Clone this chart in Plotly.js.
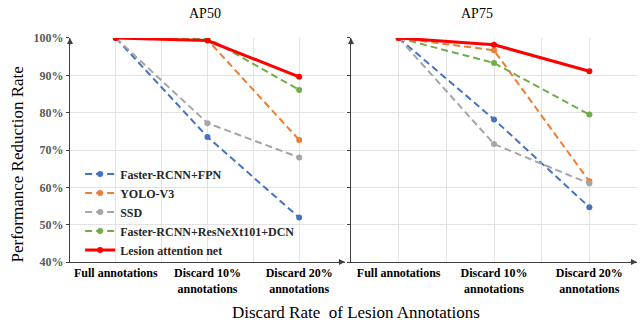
<!DOCTYPE html>
<html>
<head>
<meta charset="utf-8">
<script src="https://cdn.plot.ly/plotly-3.0.1.min.js"></script>
<style>html,body{margin:0;padding:0;background:#fff;}#chart{width:641px;height:322px;}</style>
</head>
<body>
<div id="chart"></div>
<script>
// Data
const categories = [0, 1, 2];
const tickVals = [0, 0.5, 1, 1.5, 2];
const tickLabels = ['Full annotations', '', 'Discard 10%<br>annotations', '', 'Discard 20%<br>annotations'];
const yTickVals = [40, 50, 60, 70, 80, 90, 100];
const yTickLabels = ['40%', '50%', '60%', '70%', '80%', '90%', '100%'];
const seriesNames = ['Faster-RCNN+FPN', 'YOLO-V3', 'SSD', 'Faster-RCNN+ResNeXt101+DCN', 'Lesion attention net'];
const seriesColors = ['#4472C4', '#ED7D31', '#A5A5A5', '#70AD47', '#FF0000'];
const ap50_fpn = [100, 73.5, 51.9];
const ap50_yolo = [100, 99.5, 72.7];
const ap50_ssd = [100, 77.2, 68.0];
const ap50_dcn = [100, 100, 86.1];
const ap50_lan = [100, 99.3, 89.6];
const ap75_fpn = [100, 78.2, 54.7];
const ap75_yolo = [100, 96.7, 61.6];
const ap75_ssd = [100, 71.6, 61.0];
const ap75_dcn = [100, 93.3, 79.5];
const ap75_lan = [100, 98.2, 91.1];

const ap50 = [ap50_fpn, ap50_yolo, ap50_ssd, ap50_dcn, ap50_lan];
const ap75 = [ap75_fpn, ap75_yolo, ap75_ssd, ap75_dcn, ap75_lan];

const serif = '"Liberation Serif", "Times New Roman", serif';
const traces = [];
function addPanel(data, xa, ya, showLegend) {
  data.forEach((vals, i) => {
    const isRed = i === 4;
    traces.push({
      x: categories, y: vals, xaxis: xa, yaxis: ya,
      type: 'scatter', mode: 'lines+markers',
      name: seriesNames[i], showlegend: showLegend,
      line: {color: seriesColors[i], width: isRed ? 3 : 2, dash: isRed ? 'solid' : '7px,4px'},
      marker: {color: seriesColors[i], size: 6}
    });
  });
}
addPanel(ap50, 'x', 'y', true);
addPanel(ap75, 'x2', 'y2', false);

const gridColor = '#E3E3E3';
const axisLineColor = '#404040';
function xAxis(domain, anchor) {
  return {
    domain: domain, anchor: anchor, range: [-0.5, 2.5],
    tickmode: 'array', tickvals: tickVals, ticktext: tickLabels,
    showgrid: true, gridcolor: gridColor, gridwidth: 1,
    showline: true, linecolor: axisLineColor, linewidth: 1,
    ticks: '', zeroline: false, fixedrange: true,
    tickfont: {family: serif, size: 12, color: '#000', weight: 'bold'}
  };
}
function yAxis(domain, anchor, showLabels) {
  return {
    domain: domain, anchor: anchor, range: [40, 100],
    tickmode: 'array', tickvals: yTickVals, ticktext: yTickLabels,
    showticklabels: showLabels,
    showgrid: true, gridcolor: gridColor, gridwidth: 1,
    showline: true, linecolor: axisLineColor, linewidth: 1,
    ticks: 'outside', ticklen: 3, tickcolor: axisLineColor,
    zeroline: false, fixedrange: true,
    tickfont: {family: serif, size: 12, color: '#595959', weight: 'bold'}
  };
}
const yDom = [0.1863, 0.882];
function arrow(xref, yref, x, y, ax, ay) {
  return {xref: xref, yref: yref, x: x, y: y, ax: ax, ay: ay, axref: 'pixel', ayref: 'pixel',
    text: '', showarrow: true, arrowhead: 2, arrowsize: 1.2, arrowwidth: 1, arrowcolor: axisLineColor};
}
const layout = {
  width: 641, height: 322,
  margin: {l: 0, r: 0, t: 0, b: 0},
  paper_bgcolor: '#fff', plot_bgcolor: '#fff',
  showlegend: true,
  font: {family: serif},
  legend: {
    x: 0.125, y: 0.505, xanchor: 'left', yanchor: 'top',
    bgcolor: 'rgba(0,0,0,0)', tracegroupgap: 0, itemwidth: 30,
    font: {family: serif, size: 12, color: '#262626', weight: 'bold'}
  },
  xaxis: xAxis([0.1092, 0.5382], 'y'),
  yaxis: yAxis(yDom, 'x', true),
  xaxis2: xAxis([0.5476, 0.9938], 'y2'),
  yaxis2: yAxis(yDom, 'x2', false),
  annotations: [
    {text: 'AP50', xref: 'paper', yref: 'paper', x: 0.2917, y: 0.957, yanchor: 'middle', showarrow: false,
      font: {family: serif, size: 14, color: '#000'}},
    {text: 'AP75', xref: 'paper', yref: 'paper', x: 0.772, y: 0.957, yanchor: 'middle', showarrow: false,
      font: {family: serif, size: 14, color: '#000'}},
    {text: 'Performance Reduction Rate', xref: 'paper', yref: 'paper', x: 0.027, y: 0.49, textangle: -90,
      xanchor: 'center', yanchor: 'middle',
      showarrow: false, font: {family: serif, size: 17, color: '#000'}},
    {text: 'Discard Rate&nbsp; of Lesion Annotations', xref: 'paper', yref: 'paper', x: 0.555, y: 0.028,
      yanchor: 'middle', showarrow: false, font: {family: serif, size: 17, color: '#000'}},
    arrow('x domain', 'y domain', 0, 1, 0, 8),
    arrow('x2 domain', 'y2 domain', 0, 1, 0, 8),
    arrow('x domain', 'y domain', 1, 0, -8, 0),
    arrow('x2 domain', 'y2 domain', 1, 0, -8, 0)
  ]
};
Plotly.newPlot('chart', traces, layout, {displayModeBar: false, staticPlot: true});
</script>
</body>
</html>
